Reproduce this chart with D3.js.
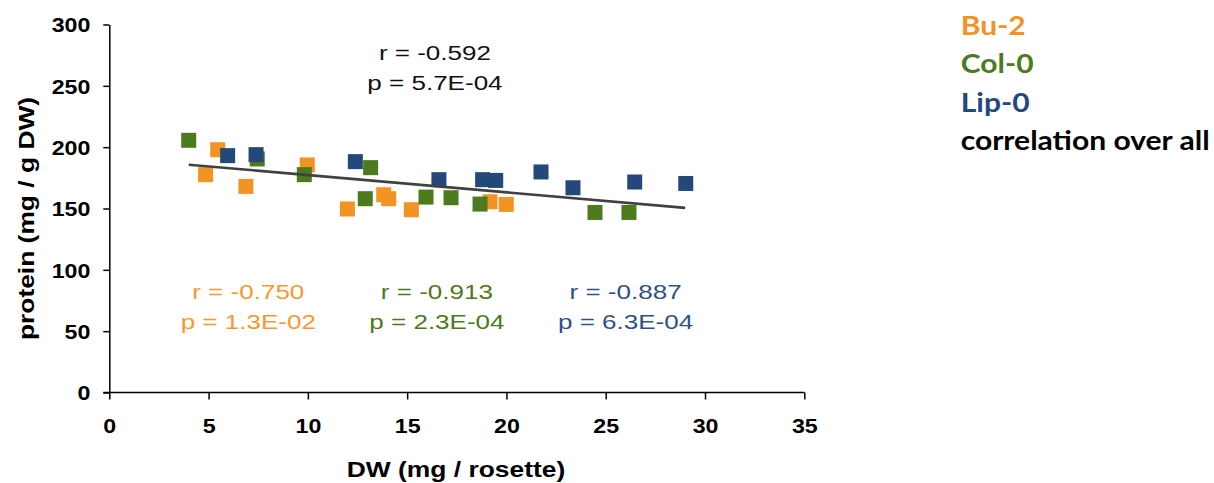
<!DOCTYPE html>
<html>
<head>
<meta charset="utf-8">
<script src="https://cdn.jsdelivr.net/npm/d3@7"></script>
<style>
  body { margin: 0; background: #fff; }
  svg text { font-family: "Liberation Sans", Arial, sans-serif; }
</style>
</head>
<body>
<svg id="chart" width="1214" height="483"></svg>
<script>
// ---- data ----
const buX  = [5.46, 4.85, 6.88, 9.97, 11.99, 13.82, 14.07, 15.21, 19.17, 19.99];
const buY  = [197.9, 177.6, 168.0, 185.5, 149.6, 161.2, 158.0, 149.0, 155.5, 153.3];
const colX = [4.0, 7.45, 9.82, 13.16, 12.89, 15.95, 17.21, 18.67, 24.46, 26.17];
const colY = [205.6, 190.4, 177.6, 183.3, 158.0, 159.3, 158.8, 153.6, 146.8, 146.8];
const lipX = [5.96, 7.39, 12.39, 16.60, 18.80, 19.46, 21.74, 23.35, 26.46, 29.03];
const lipY = [193.1, 193.9, 188.2, 173.5, 173.5, 172.9, 179.8, 166.9, 171.6, 170.4];
const trendX = [4.0, 29.0];          // overall regression line ends
const trendY = [185.7, 150.5];

const xTicks = [0, 5, 10, 15, 20, 25, 30, 35];
const yTicks = [0, 50, 100, 150, 200, 250, 300];

const legendLabels = ['Bu-2', 'Col-0', 'Lip-0', 'correlation over all'];
const rLabels = ['r = -0.750', 'r = -0.913', 'r = -0.887', 'r = -0.592'];
const pLabels = ['p = 1.3E-02', 'p = 2.3E-04', 'p = 6.3E-04', 'p = 5.7E-04'];

// ---- look ----
const markColors = ['#F29324', '#4E7A1E', '#23497A', '#000000'];
const noteColors = ['#F39A30', '#4B7A1C', '#2F5283', '#111111'];

const svg = d3.select('#chart');

const x = d3.scaleLinear().domain([0, 35]).range([109.3, 804.3]);
const y = d3.scaleLinear().domain([0, 300]).range([392.5, 24.5]);

// widen a text around its own anchor point
function widen(sel, k) {
    sel.each(function() {
        const t = d3.select(this);
        const tx = +t.attr('x') || 0, ty = +t.attr('y') || 0;
        t.attr('transform', `translate(${tx},${ty}) scale(${k},1) translate(${-tx},${-ty})`);
    });
}

// ---- axes ----
const xAxis = svg.append('g')
    .attr('transform', `translate(0,${y(0)})`)
    .call(d3.axisBottom(x).tickValues(xTicks).tickSize(7).tickSizeOuter(0));
const yAxis = svg.append('g')
    .attr('transform', `translate(${x(0)},0)`)
    .call(d3.axisLeft(y).tickValues(yTicks).tickSize(6).tickSizeOuter(0).tickPadding(13));

[xAxis, yAxis].forEach(function(ax) {
    ax.select('.domain').attr('stroke', '#000').attr('stroke-width', 1.5);
    ax.selectAll('.tick line').attr('stroke', '#000').attr('stroke-width', 1.5);
    ax.selectAll('.tick text')
        .attr('fill', '#000')
        .style('font-size', '20px')
        .style('font-weight', 'bold')
        .style('font-family', '"Liberation Sans", Arial, sans-serif');
});
xAxis.selectAll('.tick text').attr('dy', null).attr('y', 40.5);
yAxis.selectAll('.tick text').attr('dy', '0.36em');
widen(xAxis.selectAll('.tick text'), 1.16);
widen(yAxis.selectAll('.tick text'), 1.16);
// let the x-axis reach back to the 0 tick of the y-axis
xAxis.select('.domain').attr('d', `M${x(0) - 6},0H${x(35)}`);

// axis titles
svg.append('text')
    .attr('x', 456).attr('y', 477.5)
    .attr('text-anchor', 'middle')
    .style('font-size', '22px').style('font-weight', 'bold')
    .text('DW (mg / rosette)')
    .call(widen, 1.2);

svg.append('text')
    .attr('transform', 'translate(33.5,218.5) rotate(-90) scale(1.2,1)')
    .attr('text-anchor', 'middle')
    .style('font-size', '22px').style('font-weight', 'bold')
    .text('protein (mg / g DW)');

// ---- points ----
const series = [
    d3.zip(buX, buY),
    d3.zip(colX, colY),
    d3.zip(lipX, lipY)
];
const side = 15;
series.forEach(function(pts, i) {
    svg.append('g').selectAll('rect')
        .data(pts)
        .join('rect')
        .attr('x', d => x(d[0]) - side / 2)
        .attr('y', d => y(d[1]) - side / 2)
        .attr('width', side).attr('height', side)
        .attr('fill', markColors[i]);
});

// overall trend line
svg.append('path')
    .datum(d3.zip(trendX, trendY))
    .attr('d', d3.line().x(d => x(d[0])).y(d => y(d[1])))
    .attr('fill', 'none')
    .attr('stroke', '#404040')
    .attr('stroke-width', 2.6);

// ---- r / p notes (anchored in data units) ----
const noteAt = [[7.0, 76], [16.5, 76], [26.0, 76], [16.4, 271]];
noteAt.forEach(function(a, i) {
    const g = svg.append('g');
    g.append('text')
        .attr('x', x(a[0])).attr('y', y(a[1]))
        .attr('text-anchor', 'middle')
        .attr('fill', noteColors[i])
        .style('font-size', '21px')
        .text(rLabels[i])
        .call(widen, 1.24);
    g.append('text')
        .attr('x', x(a[0])).attr('y', y(a[1]) + 29.5)
        .attr('text-anchor', 'middle')
        .attr('fill', noteColors[i])
        .style('font-size', '21px')
        .text(pLabels[i])
        .call(widen, 1.24);
});

// ---- legend (text only) ----
const legend = svg.append('g');
legend.selectAll('text')
    .data(legendLabels)
    .join('text')
    .attr('x', 960.7)
    .attr('y', (d, i) => 35 + i * 38.4)
    .attr('fill', (d, i) => markColors[i])
    .style('font-family', 'Lato, "Open Sans", sans-serif')
    .style('font-weight', 'bold')
    .style('font-size', '26px')
    .text(d => d);
// fit the long entry to the width it has in the picture
const natural = legend.selectAll('text').nodes()[3].getComputedTextLength();
widen(legend.selectAll('text'), 249 / natural);
</script>
</body>
</html>
